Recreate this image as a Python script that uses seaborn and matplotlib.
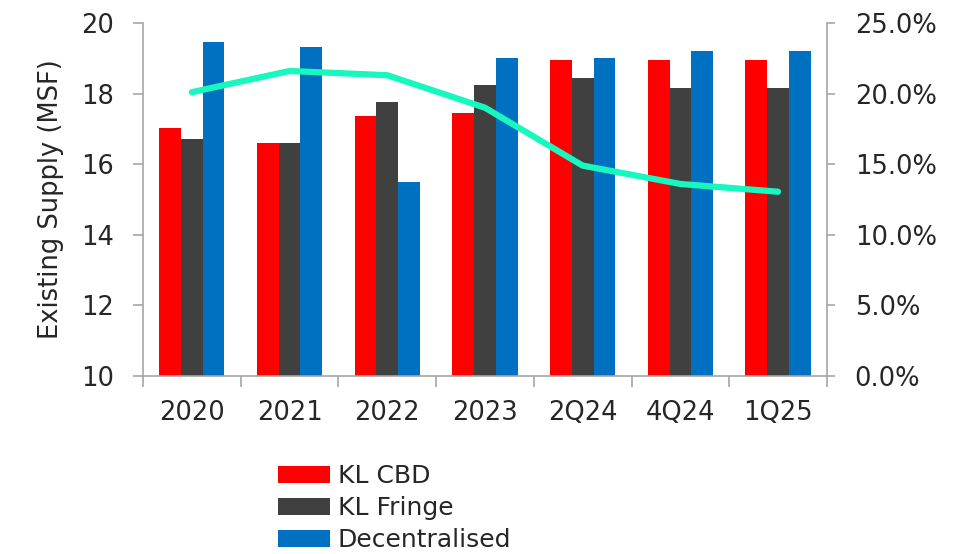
import numpy as np
import pandas as pd
import matplotlib
matplotlib.use("Agg")
import matplotlib.pyplot as plt
import seaborn as sns
from matplotlib.ticker import FuncFormatter, FixedLocator

# Existing office supply by submarket (million sq ft) and overall vacancy rate
periods = ["2020", "2021", "2022", "2023", "2Q24", "4Q24", "1Q25"]
kl_cbd = [17.03, 16.60, 17.37, 17.45, 18.94, 18.94, 18.94]
kl_fringe = [16.70, 16.60, 17.75, 18.23, 18.43, 18.15, 18.15]
decentralised = [19.47, 19.31, 15.50, 19.00, 19.00, 19.20, 19.20]
vacancy_rate = [20.1, 21.6, 21.3, 19.0, 14.9, 13.6, 13.05]

series_names = ["KL CBD", "KL Fringe", "Decentralised"]
series_colors = ["#FF0000", "#404040", "#0070C0"]
line_color = "#17F7BE"
text_color = "#262626"
spine_color = "#A6A6A6"

sns.set_theme(style="white")
plt.rcParams["font.family"] = ["DejaVu Sans"]

supply = pd.DataFrame({
    "period": periods * 3,
    "series": sum([[name] * len(periods) for name in series_names], []),
    "supply": kl_cbd + kl_fringe + decentralised,
})
vacancy = pd.DataFrame({"pos": np.arange(len(periods)), "rate": vacancy_rate})

fig = plt.figure(figsize=(9.74, 5.54), dpi=100)
ax = fig.add_axes([0.1468, 0.3213, 0.7022, 0.6372])

sns.barplot(data=supply, x="period", y="supply", hue="series",
            palette=series_colors, hue_order=series_names, order=periods,
            width=0.667, saturation=1, errorbar=None, ax=ax, linewidth=0)

ax.set_ylim(10, 20)
ax.set_xlim(-0.5, len(periods) - 0.5)
ax.set_yticks(np.arange(10, 21, 2))
ax.set_xlabel("")
ax.set_ylabel("Existing Supply (MSF)", fontsize=18.5, color=text_color, labelpad=12)

# right axis: vacancy rate line
ax2 = ax.twinx()
sns.lineplot(data=vacancy, x="pos", y="rate", color=line_color, linewidth=4.5,
             ax=ax2, legend=False)
ax2.lines[0].set_solid_capstyle("round")
ax2.lines[0].set_solid_joinstyle("round")
ax2.set_ylim(0, 25)
ax2.set_yticks(np.arange(0, 26, 5))
ax2.yaxis.set_major_formatter(FuncFormatter(lambda v, _: f"{v:.1f}%"))
ax2.set_ylabel("")
ax2.set_xlabel("")
ax2.set_xlim(-0.5, len(periods) - 0.5)

# spines and ticks
for a in (ax, ax2):
    a.spines["top"].set_visible(False)
    for s in ("left", "right", "bottom"):
        a.spines[s].set_color(spine_color)
        a.spines[s].set_linewidth(1.2)
ax.spines["right"].set_visible(False)
ax2.spines["left"].set_visible(False)
ax2.spines["bottom"].set_visible(False)

ax.tick_params(axis="y", which="major", direction="out", length=7, width=1.2,
               color=spine_color, labelsize=18.5, labelcolor=text_color, pad=14, left=True)
ax2.tick_params(axis="y", which="major", direction="out", length=6, width=1.2,
                color=spine_color, labelsize=18.5, labelcolor=text_color, pad=14, right=True)

# category separators on the x axis
ax.xaxis.set_minor_locator(FixedLocator(np.arange(-0.5, len(periods), 1.0)))
ax.tick_params(axis="x", which="minor", direction="out", length=8, width=1.2,
               color=spine_color, bottom=True)
ax.tick_params(axis="x", which="major", length=0, labelsize=18.5,
               labelcolor=text_color, pad=17)

# legend below the chart
handles, labels = ax.get_legend_handles_labels()
ax.legend(handles, labels, loc="upper left", bbox_to_anchor=(0.197, -0.25),
          frameon=False, fontsize=18, handlelength=2.1, handleheight=0.65,
          handletextpad=0.3, labelspacing=0.32, borderpad=0, borderaxespad=0,
          labelcolor=text_color)

fig.savefig("out.png", dpi=100)
